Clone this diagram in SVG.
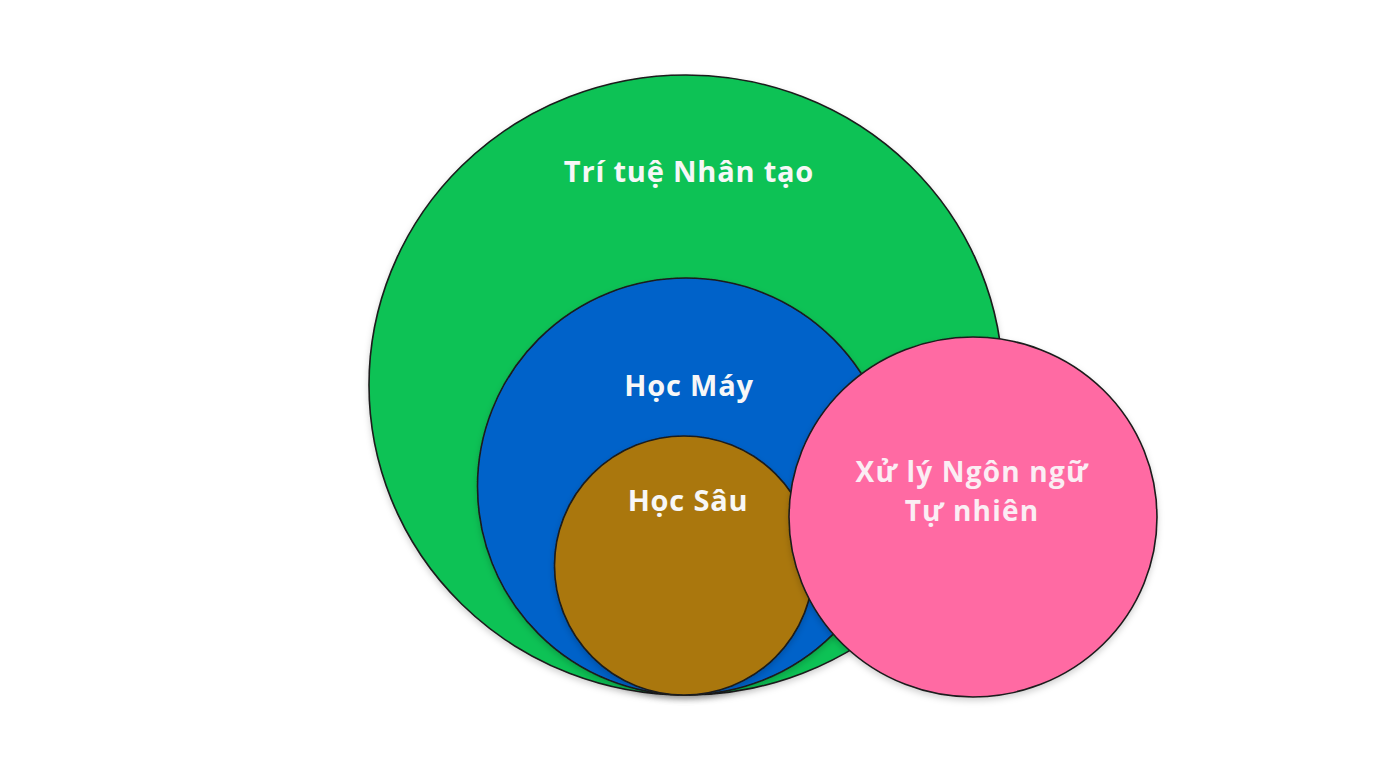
<svg xmlns="http://www.w3.org/2000/svg" width="1376" height="768" viewBox="0 0 1376 768">
  <defs>
    <filter id="shadow" x="-10%" y="-10%" width="120%" height="125%">
      <feDropShadow dx="0" dy="3" stdDeviation="3" flood-color="#000" flood-opacity="0.18"/>
    </filter>
  </defs>
  <style>
    .set { stroke: #1b1b1b; stroke-width: 1.6; }
    .lbl { font-family: "Open Sans", "Liberation Sans", sans-serif; font-weight: 700; font-size: 29px; letter-spacing: 0.8px; fill: #f7f7f7; text-anchor: middle; }
    .pk { font-size: 28px; letter-spacing: 1.2px; fill: #fbeef4; }
  </style>
  <rect width="1376" height="768" fill="#ffffff"/>
  <g id="ai" filter="url(#shadow)">
    <ellipse class="set" cx="686" cy="385" rx="317" ry="310" fill="#0cc254"/>
  </g>
  <g id="ml" filter="url(#shadow)">
    <circle class="set" cx="686" cy="486.5" r="208.5" fill="#0562c9"/>
  </g>
  <g id="dl" filter="url(#shadow)">
    <circle class="set" cx="684" cy="565.5" r="129.5" fill="#aa770f"/>
  </g>
  <g id="nlp" filter="url(#shadow)">
    <ellipse class="set" cx="973" cy="517" rx="184" ry="180" fill="#ff6aa3"/>
  </g>
  <g id="labels">
    <text class="lbl" x="689" y="182">Trí tuệ Nhân tạo</text>
    <text class="lbl" x="689" y="396">Học Máy</text>
    <text class="lbl" x="688" y="511">Học Sâu</text>
    <text class="lbl pk" x="972" y="482">Xử lý Ngôn ngữ</text>
    <text class="lbl pk" x="972" y="521">Tự nhiên</text>
  </g>
  <g id="connectors"/>
</svg>
